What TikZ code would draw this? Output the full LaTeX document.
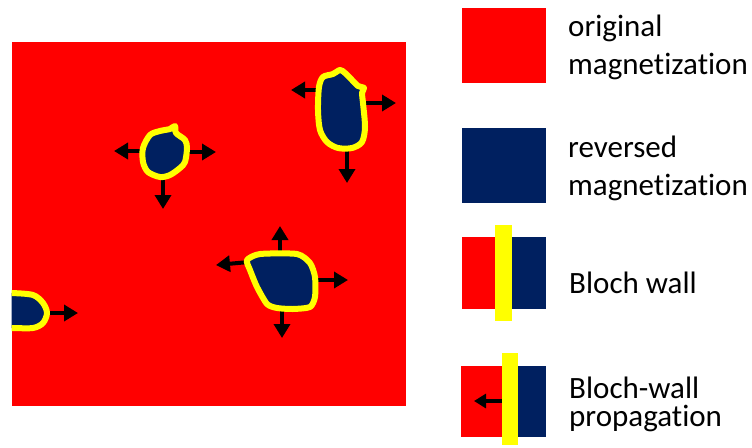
\documentclass[tikz,border=0pt]{standalone}
\usepackage{fontspec}
\setmainfont{Carlito}[Ligatures={NoCommon,NoRare,NoDiscretionary}]
\usetikzlibrary{arrows.meta}
\definecolor{magred}{HTML}{FF0000}
\definecolor{magblue}{HTML}{002060}
\definecolor{wallyellow}{HTML}{FFFF00}
\tikzset{
  revdomain/.style={fill=magblue, draw=wallyellow, line width=6pt, line join=round},
  growth/.style={line width=4pt, -{Triangle[length=14pt,width=16pt]}},
  legendtext/.style={anchor=base west, inner sep=0pt, font=\fontsize{31}{38}\selectfont}
}
\begin{document}
\begin{tikzpicture}[x=1pt,y=-1pt]
\useasboundingbox (0,0) rectangle (752,447);

% magnetized sample
\fill[magred] (11.7,41.7) rectangle (406,406);

% growth directions of the reversed domains
\draw[growth] (318,90) -- (291,90);
\draw[growth] (364,103) -- (396,103);
\draw[growth] (347,150) -- (347,183);

\draw[growth] (143,151) -- (114,151);
\draw[growth] (185,152) -- (216,152);
\draw[growth] (163,176) -- (163,209);

\draw[growth] (280,255) -- (280,226);
\draw[growth] (249,262) -- (216,265);
\draw[growth] (314,280) -- (348,280);
\draw[growth] (282,307) -- (282,338);

\draw[growth] (46,313) -- (78,313);

% reversed domains bounded by Bloch walls
\draw[revdomain] plot[smooth cycle, tension=0.5] coordinates {
  (319,87) (323,77) (333,74) (340,70) (345,73) (352,80) (358,86) (364,88)
  (362,93) (363,103) (365,127) (362,142) (352,148) (338,148) (327,142)
  (320,130) (318,110)};

\draw[revdomain] plot[smooth cycle, tension=0.5] coordinates {
  (150,135) (160,131) (170,129) (175,126) (176,133) (185,140) (187,148)
  (185,162) (180,168) (170,175) (160,177) (148,172) (143,162) (143,148)};

\draw[revdomain] plot[smooth cycle, tension=0.4] coordinates {
  (247,260) (260,254) (297,254) (310,263) (315,277) (315,297) (310,307)
  (293,309) (277,308) (267,304) (257,287) (250,270)};

\begin{scope}
  \clip (11.7,41.7) rectangle (406,406);
  \draw[revdomain] plot[smooth, tension=0.5] coordinates {
    (0,293) (12,293) (33,295) (43,303) (47,313) (43,323) (33,328) (12,328) (0,328)};
\end{scope}

% legend: original magnetization
\fill[magred] (461.5,7.5) rectangle (545.5,82.5);
\node[legendtext] (orig1) at (568,36) {original};
\node[legendtext] (orig2) at (568,74) {magnetization};

% legend: reversed magnetization
\fill[magblue] (461.5,128) rectangle (545.5,203);
\node[legendtext] (rev1) at (568,157) {reversed};
\node[legendtext] (rev2) at (568,195) {magnetization};

% legend: Bloch wall
\fill[magred] (461.5,236.5) rectangle (495,308.5);
\fill[magblue] (511.5,236.5) rectangle (546,308.5);
\fill[wallyellow] (495,224.5) rectangle (511.5,321);
\node[legendtext] (wall) at (569,293) {Bloch wall};

% legend: Bloch-wall propagation
\fill[magred] (461,365.5) rectangle (502,436.5);
\fill[magblue] (518,365.5) rectangle (546,436.5);
\fill[wallyellow] (502,352.5) rectangle (518,444.5);
\coordinate (wallpos) at (502,401);
\coordinate (wallnext) at (474,401);
\draw[line width=4pt, -{Triangle[length=12pt,width=14pt]}] (wallpos) -- (wallnext);
\node[legendtext] (prop1) at (569,398) {Bloch-wall};
\node[legendtext] (prop2) at (569,426) {propagation};
\end{tikzpicture}
\end{document}
